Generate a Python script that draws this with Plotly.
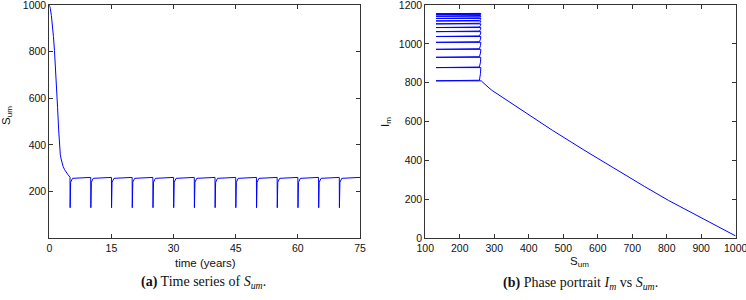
import plotly.graph_objects as go

# ---- data ----
time_years = [0, 0.25, 0.5, 0.75, 1.0, 1.25, 1.5, 1.75, 2.0, 2.25, 2.45, 2.65, 2.85, 3.1, 3.35, 3.7, 4.0, 4.5, 5.0,
              5.03, 5.15, 5.6, 7.5, 10.0,
              10.03, 10.15, 10.6, 12.5, 15.0,
              15.03, 15.15, 15.6, 17.5, 20.0,
              20.03, 20.15, 20.6, 22.5, 25.0,
              25.03, 25.15, 25.6, 27.5, 30.0,
              30.03, 30.15, 30.6, 32.5, 35.0,
              35.03, 35.15, 35.6, 37.5, 40.0,
              40.03, 40.15, 40.6, 42.5, 45.0,
              45.03, 45.15, 45.6, 47.5, 50.0,
              50.03, 50.15, 50.6, 52.5, 55.0,
              55.03, 55.15, 55.6, 57.5, 60.0,
              60.03, 60.15, 60.6, 62.5, 65.0,
              65.03, 65.15, 65.6, 67.5, 70.0,
              70.03, 70.15, 70.6, 72.5, 75.0]

S_um = [1000, 985, 955, 915, 865, 805, 735, 650, 560, 468, 400, 360, 340, 322, 307, 294, 285, 273, 262,
        131, 240, 257, 260, 261,
        131, 240, 257, 260, 261,
        131, 240, 257, 260, 261,
        131, 240, 257, 260, 261,
        131, 240, 257, 260, 261,
        131, 240, 257, 260, 261,
        131, 240, 257, 260, 261,
        131, 240, 257, 260, 261,
        131, 240, 257, 260, 261,
        131, 240, 257, 260, 261,
        131, 240, 257, 260, 261,
        131, 240, 257, 260, 261,
        131, 240, 257, 260, 261,
        131, 240, 257, 260, 261]

I_m = [12, 26, 52, 90, 137, 195, 267, 357, 454, 556, 634, 681, 705, 727, 745, 760, 773, 790, 810,
       810, 811, 813, 848, 878,
       878, 879, 881, 906, 931,
       931, 932, 934, 953, 972,
       972, 973, 975, 991, 1008,
       1008, 1009, 1011, 1024, 1038,
       1038, 1039, 1041, 1051, 1063,
       1063, 1064, 1066, 1074, 1084,
       1084, 1085, 1087, 1094, 1103,
       1103, 1104, 1106, 1111, 1118,
       1118, 1119, 1121, 1125, 1131,
       1131, 1132, 1134, 1137, 1142,
       1142, 1143, 1145, 1146, 1150,
       1150, 1151, 1152, 1153, 1155,
       1155, 1156, 1157, 1157, 1159]

left_xticks = [0, 15, 30, 45, 60, 75]
left_yticks = [200, 400, 600, 800, 1000]
right_xticks = [100, 200, 300, 400, 500, 600, 700, 800, 900, 1000]
right_yticks = [0, 200, 400, 600, 800, 1000, 1200]

# ---- figure ----
W, H = 746, 300
BLUE = "#0000ff"
FRAME = "#333333"
SANS = "Liberation Sans, Arial, Helvetica, sans-serif"
SERIF = "Liberation Serif, Times New Roman, serif"

fig = go.Figure()
fig.add_trace(go.Scatter(x=time_years, y=S_um, mode="lines",
                         line=dict(color=BLUE, width=1), xaxis="x", yaxis="y",
                         showlegend=False, hoverinfo="skip"))
fig.add_trace(go.Scatter(x=S_um, y=I_m, mode="lines",
                         line=dict(color=BLUE, width=1), xaxis="x2", yaxis="y2",
                         showlegend=False, hoverinfo="skip"))

def px_x(p):
    return p / W

def px_y(p):
    return 1 - p / H

axis_common = dict(showgrid=False, zeroline=False, showline=True, linecolor=FRAME,
                   linewidth=1, mirror="ticks", ticks="inside", ticklen=4,
                   tickcolor=FRAME, tickwidth=1, automargin=False,
                   ticklabeloverflow="allow",
                   tickfont=dict(family=SANS, size=10.5, color="#111111"))

fig.update_layout(
    width=W, height=H, autosize=False,
    margin=dict(l=0, r=0, t=0, b=0, pad=0),
    paper_bgcolor="white", plot_bgcolor="white",
    xaxis=dict(domain=[px_x(49.3), px_x(360)], range=[0, 75], tickvals=left_xticks,
               anchor="y", **axis_common),
    yaxis=dict(domain=[px_y(238.3), px_y(5)], range=[0, 1000], tickvals=left_yticks,
               anchor="x", **axis_common),
    xaxis2=dict(domain=[px_x(425.3), px_x(735.7)], range=[100, 1000], tickvals=right_xticks,
                anchor="y2", **axis_common),
    yaxis2=dict(domain=[px_y(238.3), px_y(5)], range=[0, 1200], tickvals=right_yticks,
                anchor="x2", **axis_common),
)

labels = [
    ("S<sub>um</sub>", 7, 115, -90, SANS, 11.5),
    ("time (years)", 205, 263, 0, SANS, 11.5),
    ("I<sub>m</sub>", 386, 122, -90, SANS, 11.5),
    ("S<sub>um</sub>", 579, 262, 0, SANS, 11.5),
    ("<b>(a)</b> Time series of <i>S<sub>um</sub></i>.", 203, 282, 0, SERIF, 14),
    ("<b>(b)</b> Phase portrait <i>I<sub>m</sub></i> vs <i>S<sub>um</sub></i>.", 580, 283, 0, SERIF, 14),
]
for text, x, y, ang, fam, size in labels:
    fig.add_annotation(text=text, x=px_x(x), y=px_y(y), xref="paper", yref="paper",
                       showarrow=False, textangle=ang, xanchor="center", yanchor="middle",
                       font=dict(family=fam, size=size, color="#111111"))

fig.write_html("out.html", config={"displayModeBar": False},
               post_script="document.body.style.margin='0';document.body.style.overflow='hidden';")
